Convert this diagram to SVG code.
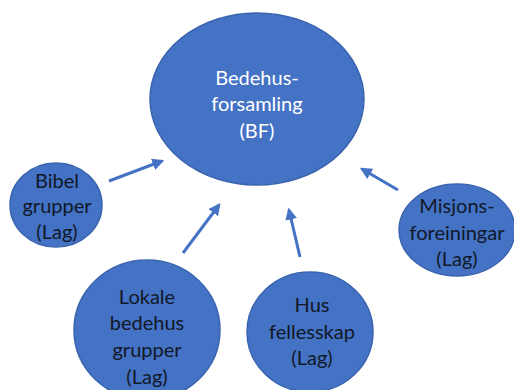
<svg xmlns="http://www.w3.org/2000/svg" width="514" height="390" viewBox="0 0 514 390">
<style>
.n{fill:#4472C4;stroke:#3A64AE;stroke-width:1.5}
.t{font-family:Lato,"Open Sans","Liberation Sans",sans-serif;font-size:20px;text-anchor:middle;fill:#111827}
.w{fill:#ffffff}
.c line{stroke:#4472C4;stroke-width:3;marker-end:url(#ah)}
</style>
<defs>
<marker id="ah" viewBox="0 0 10 10" refX="8" refY="5" markerWidth="4" markerHeight="4" orient="auto" markerUnits="strokeWidth">
<path d="M0,0 L10,5 L0,10 Z" fill="#4472C4"/>
</marker>
</defs>
<rect width="514" height="390" fill="#ffffff"/>
<g id="bf">
<ellipse class="n" cx="257" cy="99" rx="107" ry="86"/>
<text class="t w" x="257" y="85">Bedehus-</text>
<text class="t w" x="257" y="111">forsamling</text>
<text class="t w" x="257" y="138">(BF)</text>
</g>
<g id="bibel">
<ellipse class="n" cx="56" cy="205" rx="46" ry="42"/>
<text class="t" x="57" y="188">Bibel</text>
<text class="t" x="57" y="213">grupper</text>
<text class="t" x="57" y="239">(Lag)</text>
</g>
<g id="misjon">
<ellipse class="n" cx="457" cy="230" rx="58" ry="46"/>
<text class="t" x="457" y="213">Misjons-</text>
<text class="t" x="457" y="240">foreiningar</text>
<text class="t" x="457" y="266">(Lag)</text>
</g>
<g id="lokale">
<ellipse class="n" cx="147" cy="330" rx="73" ry="70"/>
<text class="t" x="147" y="304">Lokale</text>
<text class="t" x="147" y="330">bedehus</text>
<text class="t" x="147" y="357">grupper</text>
<text class="t" x="147" y="384">(Lag)</text>
</g>
<g id="hus">
<ellipse class="n" cx="310" cy="332" rx="63" ry="60"/>
<text class="t" x="312" y="312">Hus</text>
<text class="t" x="312" y="339">fellesskap</text>
<text class="t" x="312" y="365">(Lag)</text>
</g>
<g class="c" id="connectors">
<line x1="109" y1="181" x2="162" y2="161"/>
<line x1="183" y1="253" x2="219" y2="205"/>
<line x1="300" y1="257" x2="289" y2="210"/>
<line x1="398" y1="190" x2="362" y2="169"/>
</g>
</svg>
